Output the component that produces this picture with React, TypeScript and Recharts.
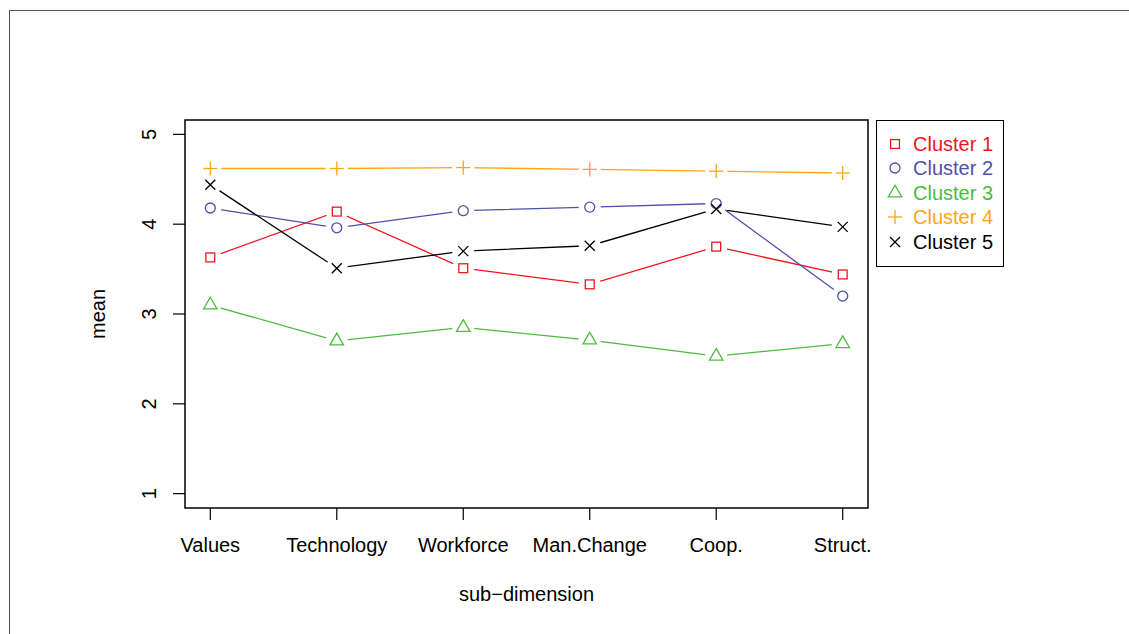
import React from 'react';
import { LineChart, Line, XAxis, YAxis, ReferenceArea, Legend } from 'recharts';

const categories = ['Values', 'Technology', 'Workforce', 'Man.Change', 'Coop.', 'Struct.'];
const cluster1 = [3.63, 4.14, 3.51, 3.33, 3.75, 3.44];
const cluster2 = [4.18, 3.96, 4.15, 4.19, 4.23, 3.20];
const cluster3 = [3.10, 2.70, 2.85, 2.71, 2.53, 2.67];
const cluster4 = [4.62, 4.62, 4.63, 4.61, 4.59, 4.57];
const cluster5 = [4.44, 3.51, 3.70, 3.76, 4.17, 3.97];
const seriesNames = ['Cluster 1', 'Cluster 2', 'Cluster 3', 'Cluster 4', 'Cluster 5'];
const seriesKeys = ['c1', 'c2', 'c3', 'c4', 'c5'];
const seriesColors = ['#F2141C', '#5050A8', '#4CBB3E', '#FFA514', '#000000'];
const seriesShapes = ['square', 'circle', 'triangle', 'plus', 'cross'];
const yTicks = [1, 2, 3, 4, 5];
const xTicks = [1, 2, 3, 4, 5, 6];

const data = categories.map((name, i) => ({
  x: i + 1,
  name,
  c1: cluster1[i],
  c2: cluster2[i],
  c3: cluster3[i],
  c4: cluster4[i],
  c5: cluster5[i],
}));

const FONT = '"Liberation Sans", Arial, Helvetica, sans-serif';
const W = 1129;
const H = 634;
const GAP = 11;

function Marker({ shape, cx, cy, color }: { shape: string; cx: number; cy: number; color: string }) {
  const s = 5;
  const sw = 1.3;
  if (shape === 'square') {
    const h = s * 0.886;
    return <rect x={cx - h} y={cy - h} width={2 * h} height={2 * h} fill="none" stroke={color} strokeWidth={sw} />;
  }
  if (shape === 'circle') {
    return <circle cx={cx} cy={cy} r={s} fill="none" stroke={color} strokeWidth={sw} />;
  }
  if (shape === 'triangle') {
    const r = 1.555 * s;
    const xc = 1.347 * s;
    const yc = 0.778 * s;
    return (
      <polygon
        points={`${cx},${cy - r} ${cx + xc},${cy + yc} ${cx - xc},${cy + yc}`}
        fill="none"
        stroke={color}
        strokeWidth={sw}
      />
    );
  }
  if (shape === 'plus') {
    const p = 1.414 * s;
    return (
      <g stroke={color} strokeWidth={sw}>
        <line x1={cx - p} y1={cy} x2={cx + p} y2={cy} />
        <line x1={cx} y1={cy - p} x2={cx} y2={cy + p} />
      </g>
    );
  }
  return (
    <g stroke={color} strokeWidth={sw}>
      <line x1={cx - s} y1={cy - s} x2={cx + s} y2={cy + s} />
      <line x1={cx - s} y1={cy + s} x2={cx + s} y2={cy - s} />
    </g>
  );
}

const makeDot = (k: number) => (props: any) => {
  const { cx, cy, payload } = props;
  const idx = payload ? payload.x - 1 : props.index;
  const key = `dot-${k}-${idx}`;
  if (cx == null || cy == null) return <g key={key} />;
  return (
    <g key={key}>
      <defs>
        <circle id={`halo-${k}-${idx}`} cx={cx} cy={cy} r={GAP} fill="#000" />
        {idx === 0 && (
          <mask id={`gap-${k}`} maskUnits="userSpaceOnUse" maskContentUnits="userSpaceOnUse" x={0} y={0} width={W} height={H}>
            <rect x={0} y={0} width={W} height={H} fill="#fff" />
            {categories.map((_, j) => (
              <use key={j} href={`#halo-${k}-${j}`} />
            ))}
          </mask>
        )}
      </defs>
      <Marker shape={seriesShapes[k]} cx={cx} cy={cy} color={seriesColors[k]} />
    </g>
  );
};

const XTick = (props: any) => {
  const { x, y, payload } = props;
  return (
    <text x={x} y={y} dy={30} textAnchor="middle" fontSize={20} fill="#000" fontFamily={FONT}>
      {categories[payload.value - 1]}
    </text>
  );
};

const YTick = (props: any) => {
  const { x, y, payload } = props;
  return (
    <text
      x={x}
      y={y}
      transform={`rotate(-90 ${x} ${y})`}
      textAnchor="middle"
      fontSize={20}
      fill="#000"
      fontFamily={FONT}
    >
      {payload.value}
    </text>
  );
};

const LegendBox = () => (
  <div
    style={{
      position: 'relative',
      width: 128,
      height: 147,
      border: '1.3px solid #000',
      boxSizing: 'border-box',
      background: '#fff',
      fontFamily: FONT,
      fontSize: 20,
    }}
  >
    {seriesNames.map((name, i) => (
      <div
        key={name}
        style={{
          position: 'absolute',
          left: 0,
          top: 10.5 + i * 24.5,
          height: 24.5,
          lineHeight: '24.5px',
          whiteSpace: 'nowrap',
          color: seriesColors[i],
        }}
      >
        <svg width={20} height={20} style={{ position: 'absolute', left: 8, top: 2.25 }}>
          <Marker shape={seriesShapes[i]} cx={10} cy={10} color={seriesColors[i]} />
        </svg>
        <span style={{ position: 'absolute', left: 36 }}>{name}</span>
      </div>
    ))}
  </div>
);

export default function App() {
  return (
    <div style={{ position: 'absolute', left: 0, top: 0, width: W, height: H, background: '#fff', overflow: 'hidden', fontFamily: FONT }}>
      <style>{seriesKeys.map((_, k) => `.series-${k} path.recharts-line-curve{mask:url(#gap-${k});}`).join('\n')}</style>
      <div
        style={{
          position: 'absolute',
          left: 9,
          top: 10,
          width: W - 9,
          height: H - 10,
          borderLeft: '1px solid #555',
          borderTop: '1px solid #555',
          boxSizing: 'border-box',
        }}
      />
      <div style={{ position: 'absolute', left: 0, top: 0 }}>
        <LineChart width={W} height={H} data={data} margin={{ top: 120, right: 261, bottom: 86, left: 125 }}>
          <XAxis
            type="number"
            dataKey="x"
            domain={[0.8, 6.2]}
            ticks={xTicks}
            allowDataOverflow
            axisLine={false}
            tickLine={{ stroke: '#000', strokeWidth: 1.2 }}
            tickSize={12}
            tickMargin={2}
            height={40}
            tick={<XTick />}
            interval={0}
            label={{
              content: (p: any) => {
                const vb = p.viewBox || { x: 185, y: 508, width: 683 };
                return (
                  <text x={vb.x + vb.width / 2} y={vb.y + 93} textAnchor="middle" fontSize={20} fill="#000" fontFamily={FONT}>
                    sub−dimension
                  </text>
                );
              },
            }}
          />
          <YAxis
            type="number"
            domain={[0.84, 5.16]}
            ticks={yTicks}
            allowDataOverflow
            axisLine={false}
            tickLine={{ stroke: '#000', strokeWidth: 1.2 }}
            tickSize={12}
            tickMargin={17}
            width={60}
            tick={<YTick />}
            interval={0}
            label={{
              content: (p: any) => {
                const vb = p.viewBox || { x: 125, y: 120, height: 388 };
                const x = vb.x - 20;
                const y = vb.y + vb.height / 2;
                return (
                  <text x={x} y={y} transform={`rotate(-90 ${x} ${y})`} textAnchor="middle" fontSize={20} fill="#000" fontFamily={FONT}>
                    mean
                  </text>
                );
              },
            }}
          />
          <ReferenceArea x1={0.8} x2={6.2} y1={0.84} y2={5.16} fill="none" fillOpacity={0} stroke="#000" strokeWidth={1.5} />
          {seriesKeys.map((key, k) => (
            <Line
              key={key}
              className={`series-${k}`}
              type="linear"
              dataKey={key}
              name={seriesNames[k]}
              stroke={seriesColors[k]}
              strokeWidth={1.3}
              mask={`url(#gap-${k})`}
              dot={makeDot(k)}
              activeDot={false}
              isAnimationActive={false}
            />
          ))}
          <Legend
            layout="vertical"
            verticalAlign="top"
            align="right"
            wrapperStyle={{ position: 'absolute', left: 876, top: 120, width: 0, height: 0, overflow: 'visible' }}
            content={() => <LegendBox />}
          />
        </LineChart>
      </div>
    </div>
  );
}
